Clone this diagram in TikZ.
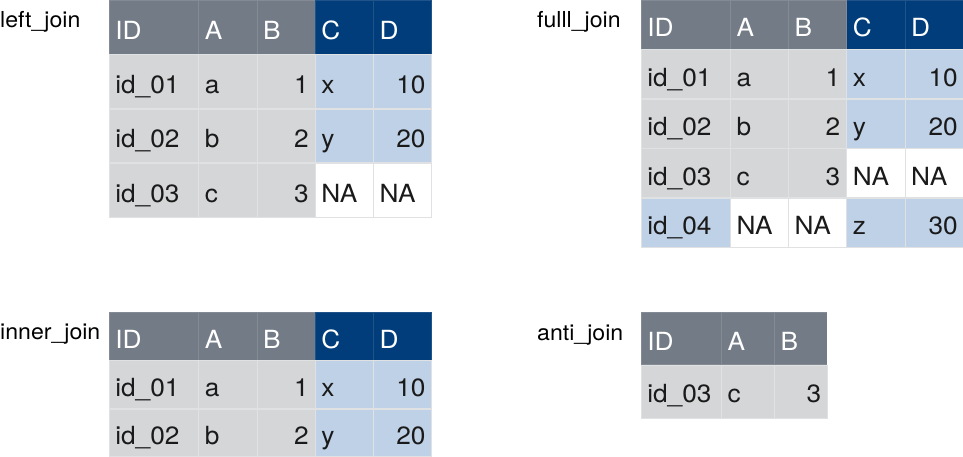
\documentclass[tikz,border=0pt]{standalone}
\usepackage{fontspec}
\setmainfont{TeX Gyre Heros}[FakeStretch=1.05]
\usetikzlibrary{shapes,positioning}
\definecolor{headgray}{HTML}{737B86}
\definecolor{headblue}{HTML}{003D7A}
\definecolor{bodygray}{HTML}{D5D6D8}
\definecolor{bodyblue}{HTML}{BFD1E6}
\definecolor{cellline}{HTML}{E0E1E3}
\definecolor{textblack}{HTML}{1A1A1A}
\newcommand{\lcell}[2]{\makebox[#1][l]{#2}}
\newcommand{\rcell}[2]{\makebox[#1][r]{#2}}

\begin{document}
\begin{tikzpicture}
  [x=1pt,y=-1pt,
   jointable/.style={
    rectangle split,
    rectangle split parts=#1,
    rectangle split horizontal,
    rectangle split part align=base,
    draw=cellline,
    line width=0.6pt,
    inner xsep=6pt,
    inner ysep=0pt,
    font=\fontsize{25}{29}\selectfont,
    text=textblack
    },
   headrow/.style={draw=white, draw opacity=0.12, text=white},
   jointitle/.style={anchor=base west, inner sep=0pt, font=\fontsize{22}{26}\selectfont}
  ]
  \useasboundingbox (0,0) rectangle (963,457);

  % left_join
  \node [jointitle] (leftjointitle) at (0,28) {left\_join};
  \node [
    jointable=5, headrow,
    text height=39pt, text depth=14.7pt,
    rectangle split part fill={headgray,headgray,headgray,headblue},
    anchor=north west
    ]
    (leftjoinhead) at (109,0)
    {
     \lcell{77pt}{ID}%
     \nodepart{two}   \lcell{45.6pt}{A}%
     \nodepart{three} \lcell{45.6pt}{B}%
     \nodepart{four}  \lcell{45.6pt}{C}%
     \nodepart{five}  \lcell{46pt}{D}%
    };
  \node [
    jointable=5,
    text height=39pt, text depth=14.7pt,
    rectangle split part fill={bodygray,bodygray,bodygray,bodyblue},
    below=0pt of leftjoinhead.south west,
    anchor=north west
    ]
    (leftjoinone)
    {
     \lcell{77pt}{id\_01}%
     \nodepart{two}   \lcell{45.6pt}{a}%
     \nodepart{three} \rcell{45.6pt}{1}%
     \nodepart{four}  \lcell{45.6pt}{x}%
     \nodepart{five}  \rcell{46pt}{10}%
    };
  \node [
    jointable=5,
    text height=39pt, text depth=14.7pt,
    rectangle split part fill={bodygray,bodygray,bodygray,bodyblue},
    below=0pt of leftjoinone.south west,
    anchor=north west
    ]
    (leftjointwo)
    {
     \lcell{77pt}{id\_02}%
     \nodepart{two}   \lcell{45.6pt}{b}%
     \nodepart{three} \rcell{45.6pt}{2}%
     \nodepart{four}  \lcell{45.6pt}{y}%
     \nodepart{five}  \rcell{46pt}{20}%
    };
  \node [
    jointable=5,
    text height=39pt, text depth=14.7pt,
    rectangle split part fill={bodygray,bodygray,bodygray,white},
    below=0pt of leftjointwo.south west,
    anchor=north west
    ]
    (leftjointhree)
    {
     \lcell{77pt}{id\_03}%
     \nodepart{two}   \lcell{45.6pt}{c}%
     \nodepart{three} \rcell{45.6pt}{3}%
     \nodepart{four}  \lcell{45.6pt}{NA}%
     \nodepart{five}  \lcell{46pt}{NA}%
    };

  % fulll_join
  \node [jointitle] (fulljointitle) at (537,28) {fulll\_join};
  \node [
    jointable=5, headrow,
    text height=36.5pt, text depth=12.4pt,
    rectangle split part fill={headgray,headgray,headgray,headblue},
    anchor=north west
    ]
    (fulljoinhead) at (641,0)
    {
     \lcell{76.6pt}{ID}%
     \nodepart{two}   \lcell{45.6pt}{A}%
     \nodepart{three} \lcell{45.6pt}{B}%
     \nodepart{four}  \lcell{45.6pt}{C}%
     \nodepart{five}  \lcell{46.6pt}{D}%
    };
  \node [
    jointable=5,
    text height=36.5pt, text depth=12.4pt,
    rectangle split part fill={bodygray,bodygray,bodygray,bodyblue},
    below=0pt of fulljoinhead.south west,
    anchor=north west
    ]
    (fulljoinone)
    {
     \lcell{76.6pt}{id\_01}%
     \nodepart{two}   \lcell{45.6pt}{a}%
     \nodepart{three} \rcell{45.6pt}{1}%
     \nodepart{four}  \lcell{45.6pt}{x}%
     \nodepart{five}  \rcell{46.6pt}{10}%
    };
  \node [
    jointable=5,
    text height=36.5pt, text depth=12.4pt,
    rectangle split part fill={bodygray,bodygray,bodygray,bodyblue},
    below=0pt of fulljoinone.south west,
    anchor=north west
    ]
    (fulljointwo)
    {
     \lcell{76.6pt}{id\_02}%
     \nodepart{two}   \lcell{45.6pt}{b}%
     \nodepart{three} \rcell{45.6pt}{2}%
     \nodepart{four}  \lcell{45.6pt}{y}%
     \nodepart{five}  \rcell{46.6pt}{20}%
    };
  \node [
    jointable=5,
    text height=36.5pt, text depth=12.4pt,
    rectangle split part fill={bodygray,bodygray,bodygray,white},
    below=0pt of fulljointwo.south west,
    anchor=north west
    ]
    (fulljointhree)
    {
     \lcell{76.6pt}{id\_03}%
     \nodepart{two}   \lcell{45.6pt}{c}%
     \nodepart{three} \rcell{45.6pt}{3}%
     \nodepart{four}  \lcell{45.6pt}{NA}%
     \nodepart{five}  \lcell{46.6pt}{NA}%
    };
  \node [
    jointable=5,
    text height=36.5pt, text depth=12.4pt,
    rectangle split part fill={bodyblue,white,white,bodyblue},
    below=0pt of fulljointhree.south west,
    anchor=north west
    ]
    (fulljoinfour)
    {
     \lcell{76.6pt}{id\_04}%
     \nodepart{two}   \lcell{45.6pt}{NA}%
     \nodepart{three} \lcell{45.6pt}{NA}%
     \nodepart{four}  \lcell{45.6pt}{z}%
     \nodepart{five}  \rcell{46.6pt}{30}%
    };

  % inner_join
  \node [jointitle] (innerjointitle) at (0,339) {inner\_join};
  \node [
    jointable=5, headrow,
    text height=36pt, text depth=11.7pt,
    rectangle split part fill={headgray,headgray,headgray,headblue},
    anchor=north west
    ]
    (innerjoinhead) at (109,312)
    {
     \lcell{77pt}{ID}%
     \nodepart{two}   \lcell{45.6pt}{A}%
     \nodepart{three} \lcell{45.6pt}{B}%
     \nodepart{four}  \lcell{45.6pt}{C}%
     \nodepart{five}  \lcell{46pt}{D}%
    };
  \node [
    jointable=5,
    text height=35.5pt, text depth=12.2pt,
    rectangle split part fill={bodygray,bodygray,bodygray,bodyblue},
    below=0pt of innerjoinhead.south west,
    anchor=north west
    ]
    (innerjoinone)
    {
     \lcell{77pt}{id\_01}%
     \nodepart{two}   \lcell{45.6pt}{a}%
     \nodepart{three} \rcell{45.6pt}{1}%
     \nodepart{four}  \lcell{45.6pt}{x}%
     \nodepart{five}  \rcell{46pt}{10}%
    };
  \node [
    jointable=5,
    text height=35.5pt, text depth=12.2pt,
    rectangle split part fill={bodygray,bodygray,bodygray,bodyblue},
    below=0pt of innerjoinone.south west,
    anchor=north west
    ]
    (innerjointwo)
    {
     \lcell{77pt}{id\_02}%
     \nodepart{two}   \lcell{45.6pt}{b}%
     \nodepart{three} \rcell{45.6pt}{2}%
     \nodepart{four}  \lcell{45.6pt}{y}%
     \nodepart{five}  \rcell{46pt}{20}%
    };

  % anti_join
  \node [jointitle] (antijointitle) at (537,340) {anti\_join};
  \node [
    jointable=3, headrow,
    text height=38pt, text depth=14.4pt,
    rectangle split part fill={headgray},
    anchor=north west
    ]
    (antijoinhead) at (641,312)
    {
     \lcell{67.6pt}{ID}%
     \nodepart{two}   \lcell{40.6pt}{A}%
     \nodepart{three} \lcell{40.6pt}{B}%
    };
  \node [
    jointable=3,
    text height=37pt, text depth=16.4pt,
    rectangle split part fill={bodygray},
    below=0pt of antijoinhead.south west,
    anchor=north west
    ]
    (antijoinone)
    {
     \lcell{67.6pt}{id\_03}%
     \nodepart{two}   \lcell{40.6pt}{c}%
     \nodepart{three} \rcell{40.6pt}{3}%
    };
\end{tikzpicture}
\end{document}
